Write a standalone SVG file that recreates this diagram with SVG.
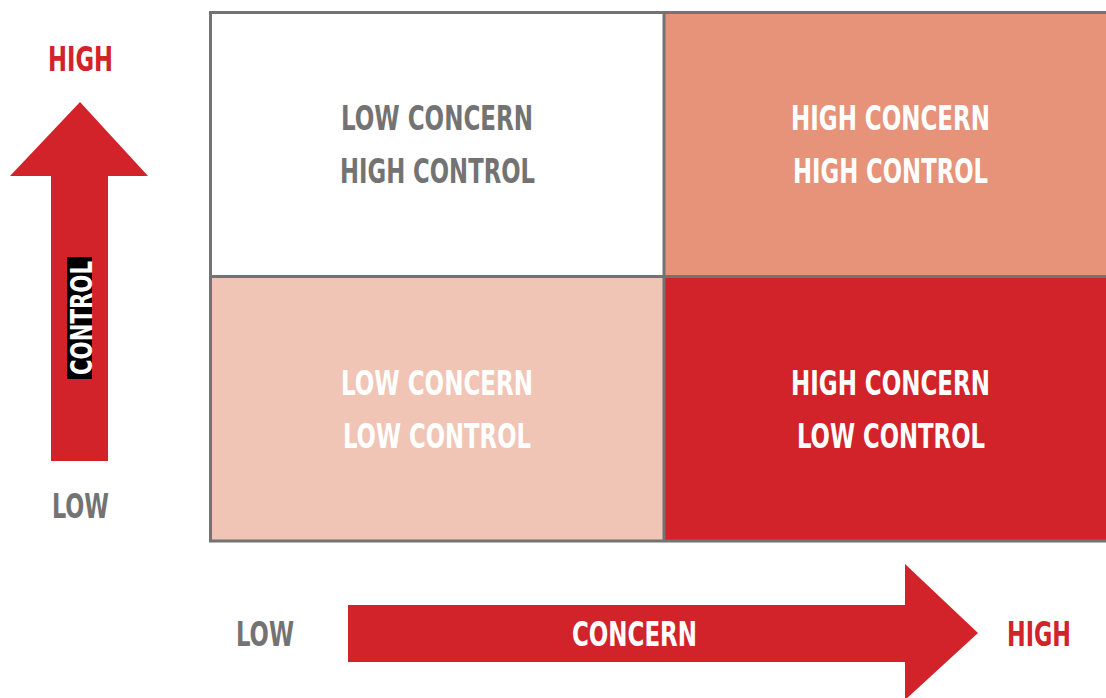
<svg xmlns="http://www.w3.org/2000/svg" width="1106" height="698" viewBox="0 0 1106 698">
<style>
.t{font-family:"Liberation Sans Narrow","DejaVu Sans Condensed","Liberation Sans",sans-serif;font-weight:bold;font-size:33px;text-anchor:middle}
.g{fill:#737373}
.w{fill:#ffffff}
.r{fill:#d2232a}
.line{stroke:#737373;stroke-width:3;fill:none}
</style>
<rect width="1106" height="698" fill="#ffffff"/>
<g id="cell-tl">
<rect x="210.5" y="12.5" width="453.5" height="264" fill="#ffffff"/>
<text class="t g" x="437" y="130" textLength="192" lengthAdjust="spacingAndGlyphs">LOW CONCERN</text>
<text class="t g" x="437.5" y="183" textLength="195" lengthAdjust="spacingAndGlyphs">HIGH CONTROL</text>
</g>
<g id="cell-tr">
<rect x="664" y="12.5" width="445" height="264" fill="#e6937a"/>
<text class="t w" x="890.5" y="130" textLength="199" lengthAdjust="spacingAndGlyphs">HIGH CONCERN</text>
<text class="t w" x="890.5" y="183" textLength="195" lengthAdjust="spacingAndGlyphs">HIGH CONTROL</text>
</g>
<g id="cell-bl">
<rect x="210.5" y="276.5" width="453.5" height="264.5" fill="#f0c5b5"/>
<text class="t w" x="437" y="395" textLength="192" lengthAdjust="spacingAndGlyphs">LOW CONCERN</text>
<text class="t w" x="437" y="448" textLength="188" lengthAdjust="spacingAndGlyphs">LOW CONTROL</text>
</g>
<g id="cell-br">
<rect x="664" y="276.5" width="445" height="264.5" fill="#d2232a"/>
<text class="t w" x="890.5" y="395" textLength="199" lengthAdjust="spacingAndGlyphs">HIGH CONCERN</text>
<text class="t w" x="891" y="448" textLength="188" lengthAdjust="spacingAndGlyphs">LOW CONTROL</text>
</g>
<g id="grid-lines">
<path class="line" d="M1110 12.5 H210.5 V541 H1110 M664 12.5 V541 M210.5 276.5 H1110"/>
</g>
<g id="connectors">
<g id="control-arrow">
<polygon points="80,102 148,176 108,176 108,461 51,461 51,176 10,176" fill="#d2232a"/>
<rect x="67" y="257" width="25" height="122" fill="#000000"/>
<text class="t w" transform="translate(91.5,318) rotate(-90)" x="0" y="0" style="font-size:31px" textLength="114" lengthAdjust="spacingAndGlyphs">CONTROL</text>
</g>
<g id="concern-arrow">
<polygon points="348,605 905,605 905,564 978,633 905,700 905,662 348,662" fill="#d2232a"/>
<text class="t w" x="634.5" y="646" textLength="125" lengthAdjust="spacingAndGlyphs">CONCERN</text>
</g>
</g>
<g id="axis-labels">
<text class="t r" x="80.5" y="71" textLength="65" lengthAdjust="spacingAndGlyphs">HIGH</text>
<text class="t g" x="80.5" y="518" textLength="57" lengthAdjust="spacingAndGlyphs">LOW</text>
<text class="t g" x="265" y="646" textLength="58" lengthAdjust="spacingAndGlyphs">LOW</text>
<text class="t r" x="1039" y="646" textLength="64" lengthAdjust="spacingAndGlyphs">HIGH</text>
</g>
</svg>
